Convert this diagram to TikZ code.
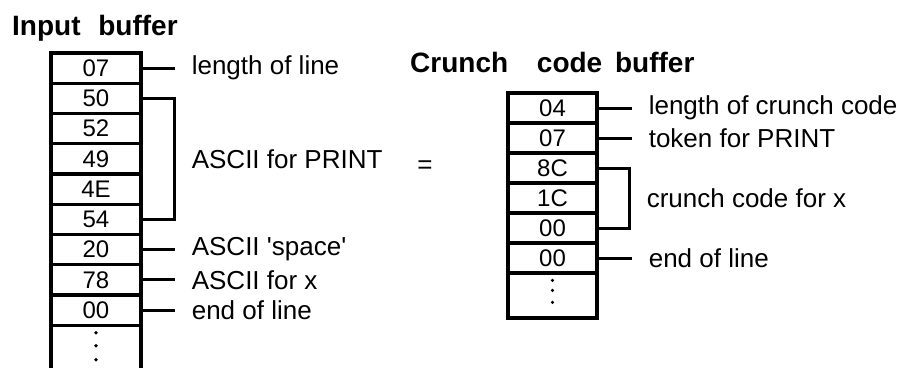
\documentclass[tikz,border=0pt]{standalone}
\usepackage{fontspec}
\setmainfont{Liberation Sans}
\usetikzlibrary{calc}
\begin{document}
\begin{tikzpicture}[x=1pt,y=-1pt,
  cell/.style={draw,line width=3.2pt,minimum width=90pt,minimum height=30.25pt,inner sep=0pt,font=\fontsize{24}{24}\selectfont},
  rcell/.style={cell,minimum width=89pt,minimum height=30pt},
  lab/.style={anchor=west,inner xsep=17pt,inner ysep=0pt,font=\fontsize{26}{26}\selectfont},
  titletext/.style={anchor=base west,inner sep=0pt,font=\fontsize{28}{28}\selectfont\bfseries},
  conn/.style={line width=3pt},
  dotmark/.style={fill=black}]
\useasboundingbox (0,0) rectangle (904,367);
\clip (0,0) rectangle (904,367);

% titles
\node[titletext] (tin) at (12,35) {Input\hspace{10pt} buffer};
\node[titletext] (tcr) at (410,72) {Crunch\hspace{21pt} code\hspace{5pt} buffer};

% input buffer cells
\node[cell] (L1) at (96,68.1) {07};
\node[cell] (L2) at (96,98.4) {50};
\node[cell] (L3) at (96,128.6) {52};
\node[cell] (L4) at (96,158.9) {49};
\node[cell] (L5) at (96,189.1) {4E};
\node[cell] (L6) at (96,219.4) {54};
\node[cell] (L7) at (96,249.6) {20};
\node[cell] (L8) at (96,279.9) {78};
\node[cell] (L9) at (96,310.1) {00};
\node[cell,minimum height=56pt] (L10) at (96,353.3) {};
\fill[dotmark] ($(L10.north)+(0,9)$) circle (1.8);
\fill[dotmark] ($(L10.north)+(0,22)$) circle (1.8);
\fill[dotmark] ($(L10.north)+(0,36)$) circle (1.8);

% input labels
\node[lab] (a1) at ($(L1.east)+(32,0)$) {length of line};
\draw[conn] (L1.east) -- (a1.west);
\node[lab] (a2) at ($(L2.east)!0.5!(L6.east)+(32,0)$) {ASCII for PRINT};
\draw[conn] (L2.east) -- ++(32,0) |- (L6.east);
\node[lab] (a3) at ($(L7.east)+(32,0)$) {ASCII \textquotesingle space\textquotesingle};
\draw[conn] (L7.east) -- (a3.west);
\node[lab] (a4) at ($(L8.east)+(32,0)$) {ASCII for x};
\draw[conn] (L8.east) -- (a4.west);
\node[lab] (a5) at ($(L9.east)+(32,0)$) {end of line};
\draw[conn] (L9.east) -- (a5.west);

% equals
\node[font=\fontsize{26}{26}\selectfont,inner sep=0pt] (eq) at (425,167) {=};

% crunch code buffer cells
\node[rcell] (R1) at (552.5,108) {04};
\node[rcell] (R2) at (552.5,138) {07};
\node[rcell] (R3) at (552.5,168) {8C};
\node[rcell] (R4) at (552.5,198) {1C};
\node[rcell] (R5) at (552.5,228) {00};
\node[rcell] (R6) at (552.5,258) {00};
\node[rcell,minimum height=45pt] (R7) at (552.5,295.5) {};
\fill[dotmark] ($(R7.north)+(0,9)$) circle (1.8);
\fill[dotmark] ($(R7.north)+(0,19)$) circle (1.8);
\fill[dotmark] ($(R7.north)+(0,31)$) circle (1.8);

% crunch labels
\node[lab] (b1) at ($(R1.east)+(33,0)$) {length of crunch code};
\draw[conn] (R1.east) -- (b1.west);
\node[lab] (b2) at ($(R2.east)+(33,0)$) {token for PRINT};
\draw[conn] (R2.east) -- (b2.west);
\node[lab] (b3) at ($(R3.east)!0.5!(R5.east)+(31,0)$) {crunch code for x};
\draw[conn] (R3.east) -- ++(31,0) |- (R5.east);
\node[lab] (b4) at ($(R6.east)+(33,0)$) {end of line};
\draw[conn] (R6.east) -- (b4.west);
\end{tikzpicture}
\end{document}
